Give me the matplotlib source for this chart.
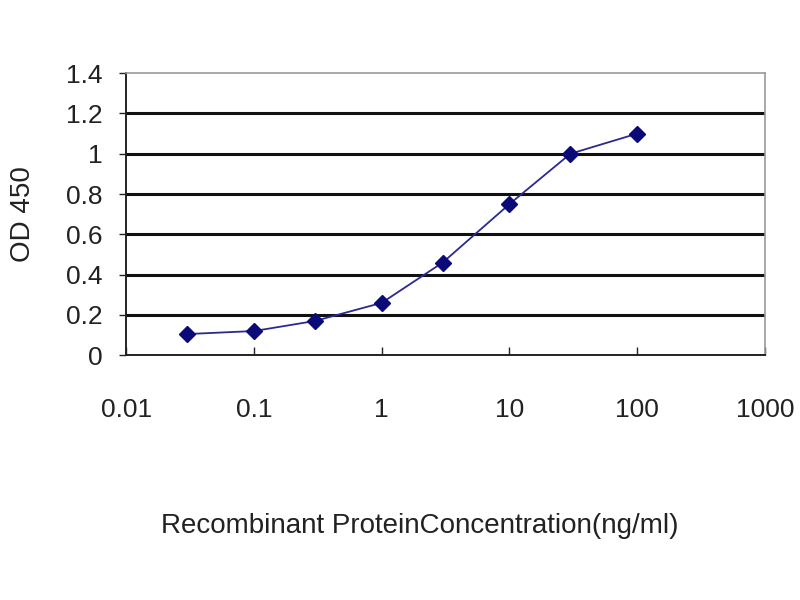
import numpy as np
import matplotlib
matplotlib.use("Agg")
import matplotlib.pyplot as plt
from matplotlib.ticker import FixedLocator, NullLocator

plt.rcParams['font.family'] = ['Liberation Sans', 'DejaVu Sans']

# data
conc = [0.03, 0.1, 0.3, 1, 3, 10, 30, 100]
od450 = [0.105, 0.12, 0.17, 0.26, 0.46, 0.75, 1.00, 1.10]

x_ticks = [0.01, 0.1, 1, 10, 100, 1000]
x_tick_labels = ["0.01", "0.1", "1", "10", "100", "1000"]
y_ticks = [0, 0.2, 0.4, 0.6, 0.8, 1.0, 1.2, 1.4]
y_tick_labels = ["0", "0.2", "0.4", "0.6", "0.8", "1", "1.2", "1.4"]

fig = plt.figure(figsize=(8, 6), dpi=100)
ax = fig.add_axes([0.158, 0.408, 0.798, 0.47])

ax.set_xscale('log')
ax.set_xlim(0.01, 1000)
ax.set_ylim(0, 1.4)

# horizontal grid lines
for v in y_ticks[1:-1]:
    ax.axhline(v, color='#111111', lw=2.2, zorder=1)

ax.plot(conc, od450, color='#2a2a90', lw=1.3, marker='D', markersize=8,
        markerfacecolor='#0a0a78', markeredgecolor='#0a0a78', zorder=3)

ax.xaxis.set_major_locator(FixedLocator(x_ticks))
ax.xaxis.set_minor_locator(NullLocator())
ax.set_xticklabels(x_tick_labels)
ax.set_yticks(y_ticks)
ax.set_yticklabels(y_tick_labels)

ax.tick_params(axis='x', direction='in', length=6, width=1, pad=31,
               labelsize=19, colors='#222222')
ax.tick_params(axis='y', direction='out', length=5, width=1, pad=12,
               labelsize=19, colors='#222222')

for side in ['left', 'bottom']:
    ax.spines[side].set_color('#222222')
    ax.spines[side].set_linewidth(1.4)
for side in ['top', 'right']:
    ax.spines[side].set_color('#999999')
    ax.spines[side].set_linewidth(1.2)

ax.set_ylabel("OD 450", fontsize=20, color='#222222', labelpad=22)
ax.set_xlabel("Recombinant ProteinConcentration(ng/ml)", fontsize=20,
              color='#222222', labelpad=65)
ax.xaxis.label.set_x(0.46)

fig.savefig("out.png", dpi=100)
